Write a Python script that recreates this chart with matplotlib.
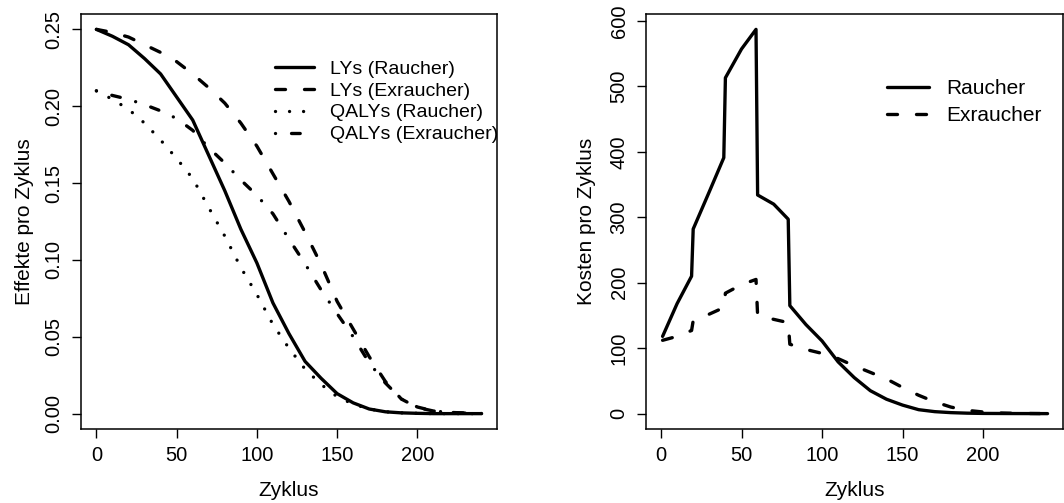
import matplotlib
matplotlib.use("Agg")
import matplotlib.pyplot as plt

plt.rcParams['font.family'] = ['Liberation Sans', 'DejaVu Sans']

# left panel: effects per cycle
zyklus = [0, 10, 20, 30, 40, 50, 60, 70, 80, 90, 100, 110, 120, 130, 140, 150,
          160, 170, 180, 190, 200, 210, 220, 230, 240]
ly_raucher = [0.250, 0.2455, 0.240, 0.231, 0.221, 0.206, 0.191, 0.168, 0.145, 0.120,
              0.098, 0.072, 0.052, 0.034, 0.023, 0.013, 0.007, 0.003, 0.0012, 0.0005,
              0.0002, 0.0, 0.0, 0.0, 0.0]
ly_exraucher = [0.250, 0.248, 0.245, 0.240, 0.235, 0.229, 0.221, 0.212, 0.202, 0.189,
                0.174, 0.156, 0.138, 0.118, 0.097, 0.073, 0.055, 0.037, 0.021, 0.0095,
                0.004, 0.0017, 0.0008, 0.0004, 0.0001]
qaly_raucher = [0.210, 0.2045, 0.198, 0.189, 0.178, 0.166, 0.153, 0.134, 0.1155, 0.095,
                0.0775, 0.058, 0.0425, 0.029, 0.019, 0.011, 0.0062, 0.003, 0.0012, 0.0005,
                0.0002, 0.0, 0.0, 0.0, 0.0]
qaly_exraucher = [0.210, 0.207, 0.2045, 0.201, 0.197, 0.192, 0.1843, 0.173, 0.163, 0.152,
                  0.142, 0.130, 0.1135, 0.0975, 0.0805, 0.065, 0.050, 0.033, 0.020, 0.0095,
                  0.0043, 0.0017, 0.0008, 0.0003, 0.0001]

# right panel: costs per cycle (jumps at age-group changes)
zyk_r = [1, 10, 19, 20, 30, 39, 40, 50, 59, 60, 70, 79, 80, 90, 100, 110, 120, 130,
         140, 150, 160, 170, 180, 190, 200, 220, 240]
kosten_raucher = [118, 168, 210, 282, 339, 391, 513, 557, 587, 334, 320, 297, 165, 136,
                  111, 79, 55, 35, 22, 13, 6, 3, 1.5, 0.7, 0.3, 0.1, 0]
zyk_e = [1, 10, 19, 20, 30, 39, 40, 50, 59, 60, 70, 79, 80, 90, 100, 110, 120, 130,
         140, 150, 160, 170, 180, 190, 200, 210, 220, 240]
kosten_exraucher = [112, 118, 127, 142, 152, 162, 184, 197, 205, 150, 144, 139, 106, 98,
                    92, 84, 73, 63, 53, 40, 28, 18, 10, 5, 2.5, 1, 0.4, 0]

lw = 2.4
sty = dict(color='black', lw=lw, dash_capstyle='round', solid_capstyle='round')
dashed = (3.0, 5.7)
dotted = (0.01, 4.2)
dotdash = (0.01, 4.8, 2.6, 4.8)

fig = plt.figure(figsize=(10.64, 5.03), dpi=100)
ax1 = fig.add_axes([81/1064, 1-429/503, 416/1064, 415/503])
ax2 = fig.add_axes([646/1064, 1-429/503, 417/1064, 415/503])

ax1.plot(zyklus, ly_raucher, label='LYs (Raucher)', **sty)
ax1.plot(zyklus, ly_exraucher, label='LYs (Exraucher)', dashes=dashed, **sty)
ax1.plot(zyklus, qaly_raucher, label='QALYs (Raucher)', dashes=dotted, **sty)
ax1.plot(zyklus, qaly_exraucher, label='QALYs (Exraucher)', dashes=dotdash, **sty)
ax1.set_xlim(-9.6, 249.6)
ax1.set_ylim(-0.01, 0.26)
ax1.set_xticks([0, 50, 100, 150, 200])
ax1.set_yticks([0, 0.05, 0.10, 0.15, 0.20, 0.25])
ax1.set_yticklabels(['0.00', '0.05', '0.10', '0.15', '0.20', '0.25'])
ax1.set_xlabel('Zyklus', fontsize=15, labelpad=11)
ax1.set_ylabel('Effekte pro Zyklus', fontsize=15, labelpad=8)
ax1.legend(frameon=False, loc='upper left', bbox_to_anchor=(0.466, 0.889), fontsize=14,
           handlelength=2.0, handletextpad=0.85, labelspacing=0.22, borderpad=0,
           borderaxespad=0)

ax2.plot(zyk_r, kosten_raucher, label='Raucher', **sty)
ax2.plot(zyk_e, kosten_exraucher, label='Exraucher', dashes=dashed, **sty)
ax2.set_xlim(-9.3, 249.6)
ax2.set_ylim(-23.5, 610.5)
ax2.set_xticks([0, 50, 100, 150, 200])
ax2.set_yticks([0, 100, 200, 300, 400, 500, 600])
ax2.set_xlabel('Zyklus', fontsize=15, labelpad=11)
ax2.set_ylabel('Kosten pro Zyklus', fontsize=15, labelpad=10)
ax2.legend(frameon=False, loc='upper left', bbox_to_anchor=(0.578, 0.843), fontsize=15,
           handlelength=2.0, handletextpad=0.85, labelspacing=0.4, borderpad=0,
           borderaxespad=0)

for ax in (ax1, ax2):
    for s in ax.spines.values():
        s.set_linewidth(1.1)
    ax.tick_params(length=6.5, width=1, pad=6, labelsize=14.5, direction='out')
    for lab in ax.get_yticklabels():
        lab.set_rotation(90)
        lab.set_va('center')

fig.savefig('out.png', dpi=100)
